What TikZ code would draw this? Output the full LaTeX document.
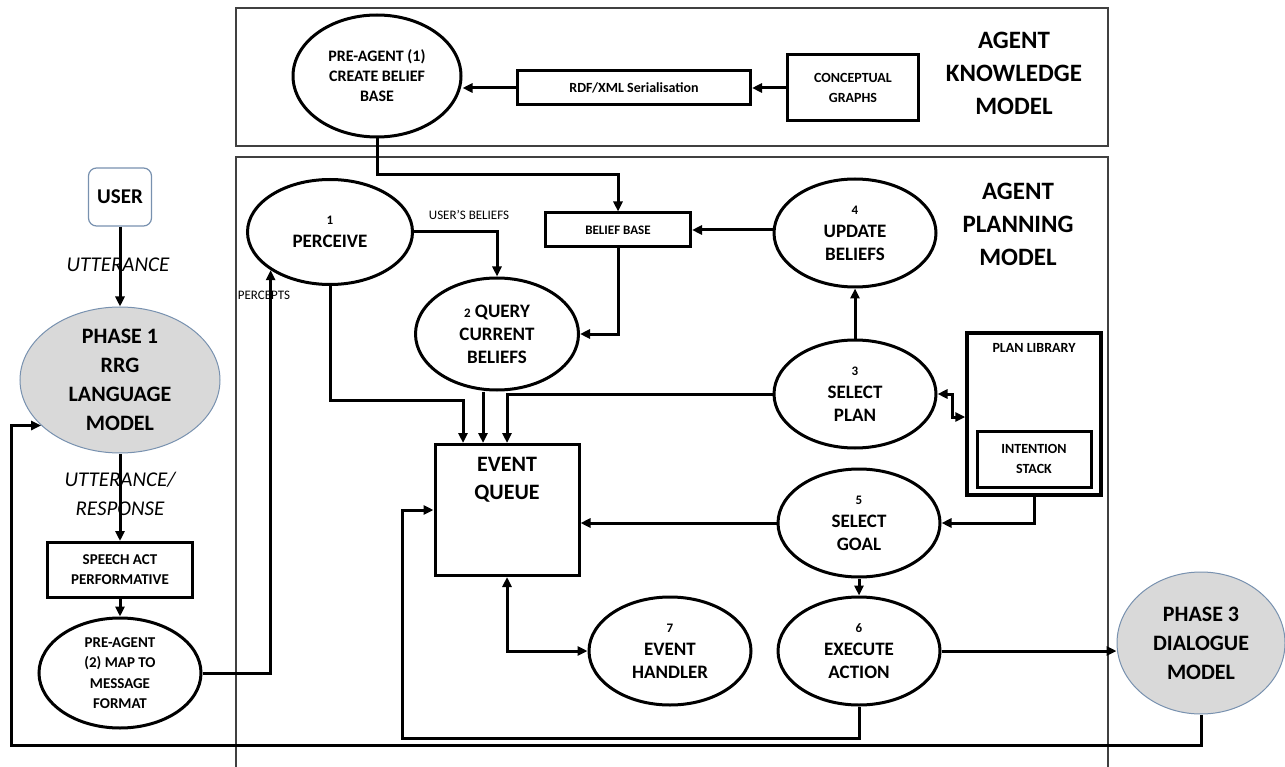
\documentclass[tikz,border=0pt]{standalone}
\usepackage{fontspec}
\setmainfont{Carlito}
\usetikzlibrary{shapes.geometric,arrows.meta}

\definecolor{grisphase}{RGB}{217,217,217}
\definecolor{bordphase}{RGB}{120,145,175}

\newcommand{\nb}[1]{{\fontsize{13}{15}\selectfont #1}}

\tikzset{bulle/.style = {ellipse, draw, line width=3pt, minimum width=#1, minimum height=108pt,
                         inner sep=0pt, align=center, font=\fontsize{19}{23}\selectfont\bfseries},
         bulle/.default=162pt,
         phase/.style = {ellipse, draw=bordphase, line width=1pt, fill=grisphase, inner sep=0pt,
                         align=center, font=\fontsize{22}{29}\selectfont\bfseries},
         boite/.style = {rectangle, draw, line width=3pt, inner sep=0pt, align=center,
                         font=\fontsize{14}{20}\selectfont\bfseries},
         fl/.style = {line width=3pt, -{Triangle[length=10pt,width=9pt]}},
         fl2/.style = {line width=3pt, {Triangle[length=10pt,width=9pt]}-{Triangle[length=10pt,width=9pt]}},
         cadre/.style = {draw=black!75, line width=1.2pt},
         titre/.style = {align=center, font=\fontsize{25}{33}\selectfont\bfseries},
         etiq/.style = {font=\fontsize{13}{15}\selectfont},
         penche/.style = {align=center, font=\fontsize{21}{29}\selectfont\itshape}
        }

\begin{document}
\begin{tikzpicture}[x=1pt, y=-1pt]
\useasboundingbox (0,0) rectangle (1285,767);

% cadres
\draw[cadre] (236,8) rectangle (1108,146);
\draw[cadre] (236,767) -- (236,157) -- (1108,157) -- (1108,767);

% agent knowledge model
\node[bulle=168pt, minimum height=122pt, font=\fontsize{16}{20}\selectfont\bfseries] (pre1) at (377,76) {PRE-AGENT (1)\\CREATE BELIEF\\BASE};
\node[boite, minimum width=233pt, minimum height=34pt] (rdf) at (634,88) {RDF/XML Serialisation};
\node[boite, minimum width=131pt, minimum height=66pt] (cg) at (853,88) {CONCEPTUAL\\GRAPHS};
\node[titre] (akm) at (1014,73) {AGENT\\KNOWLEDGE\\MODEL};

% agent planning model
\node[titre] (apm) at (1018,224) {AGENT\\PLANNING\\MODEL};
\node[boite, minimum width=145pt, minimum height=34pt, font=\fontsize{13}{15}\selectfont\bfseries] (bb) at (618,230) {BELIEF BASE};
\node[bulle=165pt, minimum height=105pt] (perc) at (330,232) {\nb{1}\\PERCEIVE};
\node[bulle] (upd) at (855,233) {\nb{4}\\UPDATE\\BELIEFS};
\node[bulle=163pt, minimum height=112pt] (query) at (497,334) {\nb{2} QUERY\\CURRENT\\BELIEFS};
\node[bulle] (plan) at (855,394) {\nb{3}\\SELECT\\PLAN};
\node[bulle] (goal) at (859,523) {\nb{5}\\SELECT\\GOAL};
\node[bulle] (exec) at (859,651) {\nb{6}\\EXECUTE\\ACTION};
\node[bulle] (handler) at (670,651) {\nb{7}\\EVENT\\HANDLER};
\node[boite, minimum width=144pt, minimum height=131pt,
      label={[anchor=north, yshift=-14pt, inner sep=0pt, align=center, font=\fontsize{22}{28}\selectfont\bfseries]north:{EVENT\\QUEUE}}] (eq) at (507,510) {};
\node[boite, line width=3.5pt, minimum width=134pt, minimum height=162pt,
      label={[anchor=north, yshift=-12pt, inner sep=0pt, font=\fontsize{14}{16}\selectfont\bfseries]north:PLAN LIBRARY}] (lib) at (1034,414) {};
\node[boite, minimum width=114pt, minimum height=56pt] (stack) at (1034,459) {INTENTION\\STACK};
\node[etiq] (usb) at (469,215) {USER'S BELIEFS};
\node[etiq] (pcp) at (264,295) {PERCEPTS};

% phases
\node[rectangle, rounded corners=8pt, draw=bordphase, line width=1.2pt, minimum width=63pt, minimum height=58pt,
      font=\fontsize{21}{25}\selectfont\bfseries] (user) at (120,197) {USER};
\node[phase, minimum width=200pt, minimum height=146pt] (phase1) at (120,380) {PHASE 1\\RRG\\LANGUAGE\\MODEL};
\node[boite, minimum width=145pt, minimum height=55pt, font=\fontsize{15}{20}\selectfont\bfseries] (speech) at (120,570) {SPEECH ACT\\PERFORMATIVE};
\node[bulle, minimum height=110pt, font=\fontsize{15}{20.5}\selectfont\bfseries] (pre2) at (120,673) {PRE-AGENT\\(2) MAP TO\\MESSAGE\\FORMAT};
\node[phase, minimum width=168pt, minimum height=142pt] (phase3) at (1201,643) {PHASE 3\\DIALOGUE\\MODEL};
\node[penche] (utt) at (118,265) {UTTERANCE};
\node[penche] (utt2) at (120,494) {UTTERANCE/\\RESPONSE};

% fleches
\draw[fl] (cg.west) -- (rdf.east);
\draw[fl] (rdf.west) -- (pre1.east |- rdf.west);
\draw[fl] (pre1.south) -- ++(0,36) -| (bb.north);
\draw[fl] (upd.west |- bb) -- (bb.east);
\draw[fl] (perc.east) -| (query.north);
\draw[fl] (bb.south) |- (query.east);
\draw[fl] (plan.north) -- (upd.south);
\draw[fl2] (plan.east) -- ++(15,0) |- ([yshift=-3pt]lib.west);
\draw[fl] (lib.south) |- (goal.east);
\draw[fl] (goal.south) -- (exec.north);
\draw[fl] (goal.west) -- (goal.west -| eq.east);
\coordinate (e1) at ([xshift=-44pt]eq.north);
\coordinate (e2) at ([xshift=-24pt]eq.north);
\draw[fl] (perc.south) -- ++(0,114) -| (e1);
\draw[fl] (query.south -| e2) -- (e2);
\draw[fl] (plan.west) -| (eq.north);
\draw[fl] (exec.south) -- ++(0,32) -| ([xshift=-31pt]eq.west) -- (eq.west);
\draw[fl2] (eq.south) |- (handler.west);
\draw[fl] (exec.east) -- (exec.east -| phase3.west);
\draw[fl] (user.south) -- (phase1.north);
\draw[fl] (phase1.south) -- (speech.north);
\draw[fl] (speech.south) -- (pre2.north);
\draw[fl] (pre2.east) -| (perc.south west);
\draw[fl] (phase3.south) -- ++(0,31) -| ([xshift=-30pt]phase1.210) -- (phase1.210);
\end{tikzpicture}
\end{document}
